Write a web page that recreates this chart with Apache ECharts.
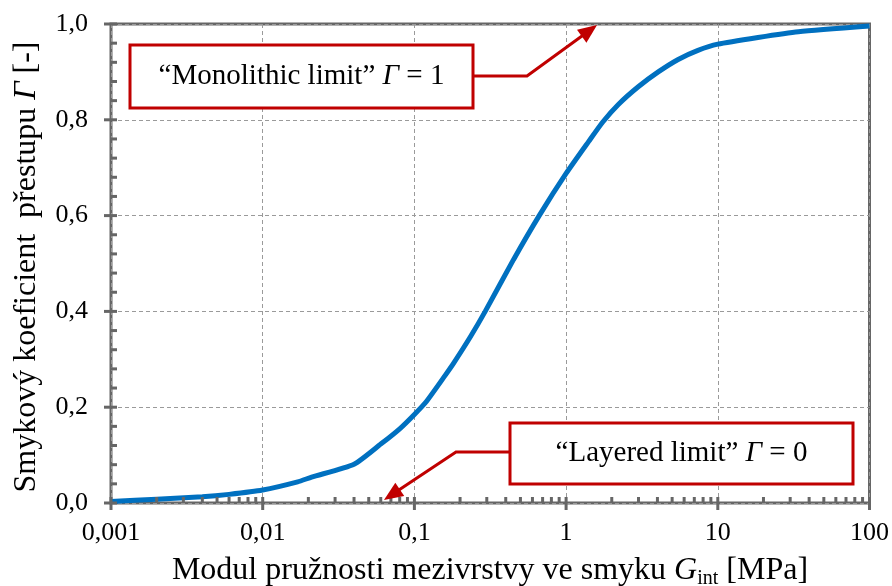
<!DOCTYPE html>
<html>
<head>
<meta charset="utf-8">
<script src="https://cdn.jsdelivr.net/npm/echarts@6/dist/echarts.min.js"></script>
<style>
html,body{margin:0;padding:0;background:#fff;}
#c{width:892px;height:586px;}
</style>
</head>
<body>
<div id="c"></div>
<script>
// ---- data ----
const gVals = [0.001,0.002,0.004,0.006,0.01,0.017,0.021,0.04,0.06,0.08,0.1,0.12,0.16,0.1815,0.234,0.293,0.45,0.665,1,1.41,1.74,2.21,2.99,4.05,5.48,7.4,10,18.4,34,100];
const gammaVals = [0.003,0.008,0.013,0.018,0.027,0.044,0.054,0.081,0.123,0.155,0.185,0.212,0.267,0.292,0.347,0.4,0.508,0.6,0.688,0.755,0.795,0.832,0.869,0.9,0.926,0.945,0.958,0.972,0.984,0.996];
const xTickLabels = {"0.001":"0,001","0.01":"0,01","0.1":"0,1","1":"1","10":"10","100":"100"};
const yTickLabels = ["0,0","0,2","0,4","0,6","0,8","1,0"];
const xTitleParts = ["Modul pružnosti mezivrstvy ve smyku ", "G", "int", " [MPa]"];
const yTitleParts = ["Smykový koeficient  přestupu ", "Γ", " [-]"];
const monolithicText = "“Monolithic limit” ";
const layeredText = "“Layered limit” ";
const monolithicTip = [1.6, 1.0];
const layeredTip = [0.063, 0.0];

const FONT = '"Liberation Serif", "Times New Roman", serif';
const RED = '#C00000';
const AX = '#666666';

// tick decoration values (axis structure)
const tickData = [];
for (let e = -3; e < 2; e++) {
  for (let m = 2; m <= 9; m++) tickData.push([m * Math.pow(10, e), 0, 0]);
}
[0.001,0.01,0.1,1,10,100].forEach(v => tickData.push([v, 0, 1]));
for (let k = 1; k < 25; k++) {
  if (k % 5 !== 0) tickData.push([0.001, +(k * 0.04).toFixed(2), 2]);
}
for (let k = 0; k <= 5; k++) tickData.push([0.001, +(k * 0.2).toFixed(1), 3]);

const chart = echarts.init(document.getElementById('c'), null, {renderer: 'canvas'});
const curve = gVals.map((g, i) => [g, gammaVals[i]]);

const option = {
  animation: false,
  backgroundColor: '#fff',
  grid: {left: 111, right: 20, top: 24, bottom: 83, show: true, borderColor: AX, borderWidth: 3, backgroundColor: 'transparent'},
  xAxis: {
    type: 'log', logBase: 10, min: 0.001, max: 100,
    axisLine: {show: false},
    axisTick: {show: false},
    minorTick: {show: false},
    splitLine: {show: true, lineStyle: {color: '#9a9a9a', type: [4, 3], width: 1}},
    axisLabel: {
      margin: 17, color: '#000', fontFamily: FONT, fontSize: 26,
      formatter: v => xTickLabels[String(+v.toPrecision(6))] || ''
    }
  },
  yAxis: {
    type: 'value', min: 0, max: 1, interval: 0.2,
    axisLine: {show: false},
    axisTick: {show: false},
    splitLine: {show: true, lineStyle: {color: '#9a9a9a', type: [4, 3], width: 1}},
    axisLabel: {
      margin: 23, color: '#000', fontFamily: FONT, fontSize: 26,
      formatter: v => yTickLabels[Math.round(v / 0.2)]
    }
  },
  series: [
    {
      type: 'line', data: curve, showSymbol: false, smooth: 0.2,
      lineStyle: {color: '#0070C0', width: 5}, z: 5, clip: false
    },
    {
      type: 'custom', data: tickData, clip: false, z: 6, silent: true,
      renderItem: (params, api) => {
        const p = api.coord([api.value(0), api.value(1)]);
        const kind = api.value(2);
        let shape;
        if (kind === 0) shape = {x1: p[0], y1: p[1], x2: p[0], y2: p[1] - 6};
        else if (kind === 1) shape = {x1: p[0], y1: p[1] + 7, x2: p[0], y2: p[1] - 6};
        else if (kind === 2) shape = {x1: p[0], y1: p[1], x2: p[0] + 6, y2: p[1]};
        else shape = {x1: p[0] - 7, y1: p[1], x2: p[0] + 6, y2: p[1]};
        return {type: 'line', shape, style: {stroke: AX, lineWidth: 3}};
      }
    }
  ]
};
chart.setOption(option);

function arrowGraphics(points, id) {
  const n = points.length;
  const tip = points[n - 1], prev = points[n - 2];
  const dx = tip[0] - prev[0], dy = tip[1] - prev[1];
  const len = Math.sqrt(dx * dx + dy * dy);
  const ux = dx / len, uy = dy / len;
  const hl = 19, hw = 8;
  const base = [tip[0] - ux * hl, tip[1] - uy * hl];
  const linePts = points.slice(0, n - 1).concat([[base[0] + ux * 2, base[1] + uy * 2]]);
  return [
    {type: 'polyline', id: id + 'l', shape: {points: linePts}, style: {stroke: RED, lineWidth: 3, fill: null}, z: 20},
    {type: 'polygon', id: id + 'h', shape: {points: [tip, [base[0] - uy * hw, base[1] + ux * hw], [base[0] + uy * hw, base[1] - ux * hw]]}, style: {fill: RED}, z: 20}
  ];
}

function boxGraphic(x, y, w, h, txt, val, id) {
  return {
    type: 'group', id, z: 20,
    children: [
      {type: 'rect', shape: {x, y, width: w, height: h}, style: {fill: '#fff', stroke: RED, lineWidth: 3}, z: 20},
      {type: 'text', x: x + w / 2, y: y + h / 2, z: 21,
        style: {
          text: '{n|' + txt + '}{i|Γ}{n| = ' + val + '}',
          align: 'center', verticalAlign: 'middle',
          rich: {
            n: {fontFamily: FONT, fontSize: 29, fill: '#000'},
            i: {fontFamily: FONT, fontSize: 29, fill: '#000', fontStyle: 'italic'}
          }
        }}
    ]
  };
}

const t1 = chart.convertToPixel({seriesIndex: 0}, monolithicTip);
const t2 = chart.convertToPixel({seriesIndex: 0}, layeredTip);
const graphics = []
  .concat(arrowGraphics([[473, 76], [527, 76], [t1[0], t1[1] + 1]], 'a1'))
  .concat(arrowGraphics([[510, 452], [456, 452], [t2[0], t2[1] - 3]], 'a2'))
  .concat([
    boxGraphic(130, 45, 343, 63, monolithicText, '1', 'b1'),
    boxGraphic(510, 423, 343, 61, layeredText, '0', 'b2'),
    {type: 'text', id: 'xt', x: 490, y: 571, z: 20,
      style: {
        text: '{n|' + xTitleParts[0] + '}{i|' + xTitleParts[1] + '}{s|' + xTitleParts[2] + '}{n|' + xTitleParts[3] + '}',
        align: 'center', verticalAlign: 'middle',
        rich: {
          n: {fontFamily: FONT, fontSize: 32, fill: '#000'},
          i: {fontFamily: FONT, fontSize: 32, fill: '#000', fontStyle: 'italic'},
          s: {fontFamily: FONT, fontSize: 20, fill: '#000', padding: [16, 0, 0, 0]}
        }
      }},
    {type: 'text', id: 'yt', x: 27, y: 267, rotation: Math.PI / 2, z: 20,
      style: {
        text: '{n|' + yTitleParts[0] + '}{i|' + yTitleParts[1] + '}{n|' + yTitleParts[2] + '}',
        align: 'center', verticalAlign: 'middle',
        rich: {
          n: {fontFamily: FONT, fontSize: 32, fill: '#000'},
          i: {fontFamily: FONT, fontSize: 32, fill: '#000', fontStyle: 'italic'}
        }
      }}
  ]);
chart.setOption({graphic: graphics});
</script>
</body>
</html>
